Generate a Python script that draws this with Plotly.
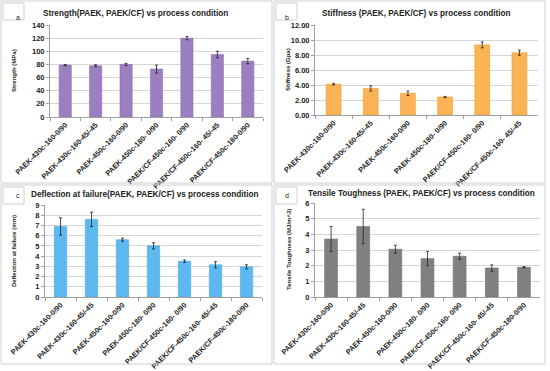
import plotly.graph_objects as go

W, H = 550, 371

cats7 = ["PAEK-430c-160-0/90", "PAEK-430c-160-45/-45", "PAEK-450c-160-0/90",
         "PAEK-450c-180- 0/90", "PAEK/CF-450c-160- 0/90", "PAEK/CF-450c-160- 45/-45",
         "PAEK/CF-450c-180-0/90"]
cats6 = cats7[:6]

strength = [79, 78, 80, 73, 120, 95, 85]
strength_err = [1, 1.5, 1.5, 6, 2.5, 5, 4]

stiffness = [4.1, 3.55, 2.9, 2.4, 9.35, 8.3]
stiffness_err = [0.12, 0.35, 0.3, 0.08, 0.4, 0.35]

deflection = [6.9, 7.6, 5.6, 5.0, 3.5, 3.15, 2.95]
deflection_err = [0.85, 0.7, 0.15, 0.3, 0.12, 0.3, 0.2]

toughness = [3.7, 4.5, 3.05, 2.45, 2.6, 1.85, 1.9]
toughness_err = [0.8, 1.1, 0.25, 0.45, 0.2, 0.2, 0.04]

FONT = "Liberation Sans"


def px_x(p):
    return p / W


def px_y(p):
    return 1 - p / H


panels = [
    dict(x=cats7, y=strength, e=strength_err, color="#9b7fc0", line="#8a6db0",
         xd=(50, 263), yd=(117, 25), rng=[0, 140], dtick=20, fmt="d",
         ytitle="Strength (MPa)", yx=14,
         title="Strength(PAEK, PAEK/CF) vs process condition", tx=135, ty=13),
    dict(x=cats6, y=stiffness, e=stiffness_err, color="#fbb455", line="#f39a2a",
         xd=(315, 538), yd=(115, 25), rng=[0, 12], dtick=2, fmt=".2f",
         ytitle="Stiffness (Gpa)", yx=288,
         title="Stiffness (PAEK, PAEK/CF) vs process condition", tx=416, ty=14),
    dict(x=cats7, y=deflection, e=deflection_err, color="#5cb8ee", line="#4aa8e0",
         xd=(45, 262), yd=(297, 205), rng=[0, 9], dtick=1, fmt="d",
         ytitle="Deflection at failure (mm)", yx=14,
         title="Deflection at failure(PAEK, PAEK/CF) vs process condition", tx=145, ty=194),
    dict(x=cats7, y=toughness, e=toughness_err, color="#808080", line="#707070",
         xd=(315, 540), yd=(297, 203), rng=[0, 6], dtick=1, fmt="d",
         ytitle="Tensile Toughness (MJ/m^3)", yx=289,
         title="Tensile Toughness (PAEK, PAEK/CF) vs process condition", tx=421, ty=193),
]

fig = go.Figure()
layout = dict(
    width=W, height=H, margin=dict(l=0, r=0, t=0, b=0, autoexpand=False),
    paper_bgcolor="white", plot_bgcolor="white", showlegend=False,
    bargap=0.6, font=dict(family=FONT, color="#222"),
)
annotations = []
shapes = []

for i, p in enumerate(panels, start=1):
    xa = "x" if i == 1 else f"x{i}"
    ya = "y" if i == 1 else f"y{i}"
    fig.add_trace(go.Bar(
        x=p["x"], y=p["y"], xaxis=xa, yaxis=ya,
        marker=dict(color=p["color"], line=dict(color=p["line"], width=0.6)),
        error_y=dict(type="data", array=p["e"], color="#222", thickness=0.8, width=1.5),
    ))
    kx = "xaxis" if i == 1 else f"xaxis{i}"
    ky = "yaxis" if i == 1 else f"yaxis{i}"
    layout[kx] = dict(
        domain=[px_x(p["xd"][0]), px_x(p["xd"][1])], anchor=ya, automargin=False,
        tickangle=-45, tickfont=dict(size=7.3, color="#222", family=FONT, weight="bold"),
        showline=True, linecolor="#a0a0a0", linewidth=1,
        ticks="outside", ticklen=3, tickcolor="#a0a0a0", tickson="boundaries",
        showgrid=False, fixedrange=True,
    )
    layout[ky] = dict(
        domain=[px_y(p["yd"][0]), px_y(p["yd"][1])], anchor=xa, automargin=False,
        range=p["rng"], dtick=p["dtick"], tickformat=p["fmt"],
        tickfont=dict(size=7.5, color="#222", family=FONT, weight="bold"),
        showline=True, linecolor="#a0a0a0", linewidth=1,
        ticks="outside", ticklen=3, tickcolor="#a0a0a0",
        showgrid=True, gridcolor="#d6d6d6", gridwidth=1, zeroline=False,
    )
    annotations.append(dict(
        text="<b>" + p["title"] + "</b>", x=px_x(p["tx"]), y=px_y(p["ty"]),
        xref="paper", yref="paper", xanchor="center", yanchor="middle",
        showarrow=False, font=dict(size=8.2, color="#222", family=FONT),
    ))
    ymid = (p["yd"][0] + p["yd"][1]) / 2
    annotations.append(dict(
        text="<b>" + p["ytitle"] + "</b>", x=px_x(p["yx"]), y=px_y(ymid),
        xref="paper", yref="paper", xanchor="center", yanchor="middle", textangle=-90,
        showarrow=False, font=dict(size=6, color="#222", family=FONT),
    ))

# panel frames and letter boxes
frames = [(1, 1, 272, 183), (274, 1, 545, 183), (1, 185, 272, 364), (274, 185, 545, 364)]
letters = ["a", "b", "c", "d"]
for (x0, y0, x1, y1), L in zip(frames, letters):
    shapes.append(dict(type="rect", xref="paper", yref="paper",
                       x0=px_x(x0), x1=px_x(x1), y0=px_y(y1), y1=px_y(y0),
                       line=dict(color="#cfcfcf", width=1)))
    shapes.append(dict(type="rect", xref="paper", yref="paper",
                       x0=px_x(x0 + 2), x1=px_x(x0 + 23), y0=px_y(y0 + 19), y1=px_y(y0 + 2),
                       line=dict(color="#cfcfcf", width=1)))
    annotations.append(dict(text=L, x=px_x(x0 + 12.5), y=px_y(y0 + 10.5),
                            xref="paper", yref="paper", showarrow=False,
                            font=dict(size=7, color="#222", family=FONT)))

layout["annotations"] = annotations
layout["shapes"] = shapes
fig.update_layout(**layout)
fig.write_html("out.html", config={"displayModeBar": False},
               post_script="document.body.style.margin='0';document.body.style.overflow='hidden';")
